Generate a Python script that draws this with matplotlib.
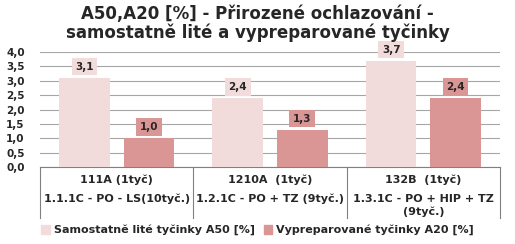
import matplotlib
matplotlib.use("Agg")
import matplotlib.pyplot as plt
from matplotlib.patches import Patch

categories_top = ["111A (1tyč)", "1210A  (1tyč)", "132B  (1tyč)"]
categories_bottom = [["1.1.1C - PO - LS(10tyč.)"], ["1.2.1C - PO + TZ (9tyč.)"], ["1.3.1C - PO + HIP + TZ", "(9tyč.)"]]
series_names = ["Samostatně lité tyčinky A50 [%]", "Vypreparované tyčinky A20 [%]"]
a50 = [3.1, 2.4, 3.7]
a20 = [1.0, 1.3, 2.4]
yticks = [0.0, 0.5, 1.0, 1.5, 2.0, 2.5, 3.0, 3.5, 4.0]

c_light = "#F2DCDB"
c_dark = "#D99694"
tc = "#262626"

fig = plt.figure(figsize=(5.15, 2.44), dpi=100)
ax = fig.add_axes([40/515, 1-167/244, 460/515, 115/244])

x = list(range(len(a50)))
w = 0.33
off = 0.21
ax.bar([i - off for i in x], a50, width=w, color=c_light, zorder=3)
ax.bar([i + off for i in x], a20, width=w, color=c_dark, zorder=3)

for i in x:
    for val, xx, col in ((a50[i], i - off, c_light), (a20[i], i + off, c_dark)):
        ax.annotate(f"{val:.1f}".replace(".", ","), (xx, val), xytext=(0, 8),
                    textcoords="offset points", ha="center", va="center",
                    fontsize=7.5, fontweight="bold", color=tc,
                    bbox=dict(boxstyle="square,pad=0.35", fc=col, ec="none"), zorder=4)

ax.set_xlim(-0.5, 2.5)
ax.set_ylim(0, 4.0)
ax.set_yticks(yticks)
ax.set_yticklabels([f"{t:.1f}".replace(".", ",") for t in yticks], fontsize=7.5, fontweight="bold", color=tc)
ax.yaxis.grid(True, color="#A6A6A6", linewidth=0.8, zorder=0)
ax.set_xticks([])
ax.tick_params(axis="y", length=0, pad=11)
for s in ["left", "right", "top"]:
    ax.spines[s].set_visible(False)
ax.spines["bottom"].set_color("#808080")
ax.spines["bottom"].set_linewidth(0.8)

tr = ax.get_xaxis_transform()
for b in [-0.5, 0.5, 1.5, 2.5]:
    ax.plot([b, b], [0, -0.443], transform=tr, color="#808080", linewidth=0.8, clip_on=False)

for i in x:
    ax.text(i, -0.113, categories_top[i], transform=tr, ha="center", va="center",
            fontsize=8, fontweight="bold", color=tc)
    for j, line in enumerate(categories_bottom[i]):
        ax.text(i, -0.278 - j * 0.115, line, transform=tr, ha="center", va="center",
                fontsize=8, fontweight="bold", color=tc)

fig.text(0.5, 1-14/244, "A50,A20 [%] - Přirozené ochlazování -", ha="center", va="center",
         fontsize=12, fontweight="bold", color=tc)
fig.text(0.5, 1-33/244, "samostatně lité a vypreparované tyčinky", ha="center", va="center",
         fontsize=12, fontweight="bold", color=tc)

handles = [Patch(color=c_light), Patch(color=c_dark)]
fig.legend(handles, series_names, loc="center", bbox_to_anchor=(0.5, 1-230/244), ncol=2, frameon=False,
           prop=dict(size=8, weight="bold"), handlelength=0.8, handleheight=0.8, handletextpad=0.3,
           columnspacing=0.8, labelcolor=tc)

fig.savefig("out.png", dpi=100)
